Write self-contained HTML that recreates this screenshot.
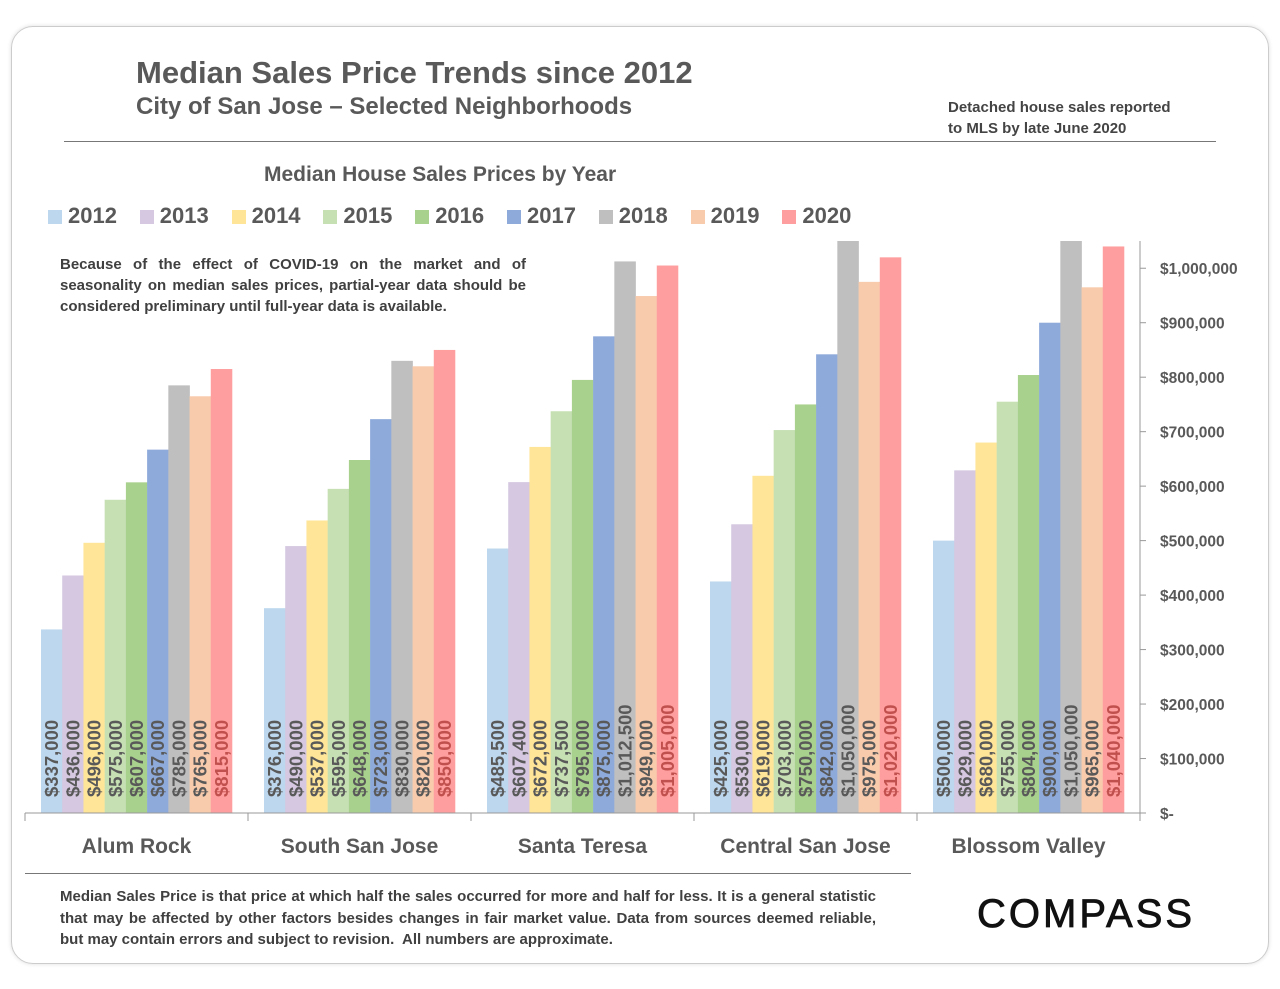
<!DOCTYPE html>
<html><head><meta charset="utf-8"><style>
body{margin:0;width:1280px;height:989px;background:#fff;font-family:"Liberation Sans",sans-serif;overflow:hidden}
.card{position:absolute;left:11px;top:26px;width:1256px;height:936px;border:1px solid #ccc;border-radius:22px;box-shadow:0 0 4px #ddd}
.t{position:absolute;color:#595959;font-weight:bold;white-space:nowrap}
</style></head><body>
<div class="card"></div>
<div class="t" style="left:136px;top:55px;font-size:31px">Median Sales Price Trends since 2012</div>
<div class="t" style="left:136px;top:93px;font-size:24px">City of San Jose – Selected Neighborhoods</div>
<div class="t" style="left:948px;top:97px;font-size:15px;line-height:21px;color:#444">Detached house sales reported<br>to MLS by late June 2020</div>
<div style="position:absolute;left:64px;top:141px;width:1152px;height:1px;background:#777"></div>
<div class="t" style="left:264px;top:163px;font-size:21px">Median House Sales Prices by Year</div>
<div id="legend"></div>
<div class="t" style="left:60px;top:254px;font-size:15px;line-height:21px;color:#404040;white-space:normal;width:466px;text-align:justify">Because of the effect of COVID-19 on the market and of seasonality on median sales prices, partial-year data should be considered preliminary until full-year data is available.</div>
<svg id="chart" width="1280" height="989" style="position:absolute;left:0;top:0"></svg>
<div style="position:absolute;left:25px;top:873px;width:886px;height:1px;background:#777"></div>
<div class="t" style="left:60px;top:886px;font-size:15px;line-height:21.5px;color:#404040;white-space:normal;width:816px;text-align:justify">Median Sales Price is that price at which half the sales occurred for more and half for less. It is a general statistic that may be affected by other factors besides changes in fair market value. Data from sources deemed reliable, but may contain errors and subject to revision.&nbsp; All numbers are approximate.</div>
<div class="t" style="left:977px;top:892px;font-size:40px;color:#111;letter-spacing:3px;font-weight:normal;-webkit-text-stroke:0.8px #111">COMPASS</div>
<script>
const categories=["Alum Rock","South San Jose","Santa Teresa","Central San Jose","Blossom Valley"];
const years=["2012","2013","2014","2015","2016","2017","2018","2019","2020"];
const colors=["#bdd7ee","#d5c8e0","#ffe598","#c6e0b4","#a9d18e","#8eaadb","#bfbfbf","#f8cbad","#ff9e9e"];
const v2012=[337000,376000,485500,425000,500000];
const v2013=[436000,490000,607400,530000,629000];
const v2014=[496000,537000,672000,619000,680000];
const v2015=[575000,595000,737500,703000,755000];
const v2016=[607000,648000,795000,750000,804000];
const v2017=[667000,723000,875000,842000,900000];
const v2018=[785000,830000,1012500,1050000,1050000];
const v2019=[765000,820000,949000,975000,965000];
const v2020=[815000,850000,1005000,1020000,1040000];
const series=[v2012,v2013,v2014,v2015,v2016,v2017,v2018,v2019,v2020];
const yTicks=[0,100000,200000,300000,400000,500000,600000,700000,800000,900000,1000000];
const NS="http://www.w3.org/2000/svg";
const svg=document.getElementById('chart');
const x0=25,x1=1140,y0=813,yMax=1050000,plotTop=241;
const y=v=>y0-(Math.min(v,yMax)/yMax)*(y0-plotTop);
const gw=(x1-x0)/categories.length,pad=16,bw=(gw-2*pad)/years.length;
function mk(t,a){const e=document.createElementNS(NS,t);for(const k in a)e.setAttribute(k,a[k]);svg.appendChild(e);return e;}
const fmt=v=>'$'+v.toLocaleString('en-US');
categories.forEach((c,i)=>{
  series.forEach((s,j)=>{
    const bx=x0+i*gw+pad+j*bw;
    const r=mk('rect',{x:bx,y:y(s[i]),width:bw+0.3,height:y0-y(s[i]),fill:colors[j]});
    
    
    const cx=bx+bw/2+6.5;
    const t=mk('text',{x:0,y:0,'font-size':18.5,'font-weight':'bold',fill:j==8?'#c0504d':'#595959'});
    t.setAttribute('transform',`translate(${cx},797) rotate(-90)`);
    t.textContent=fmt(s[i]);
    
    
  });
  const l=mk('text',{x:x0+i*gw+gw/2,y:853,'text-anchor':'middle','font-size':21,'font-weight':'bold',fill:'#595959'});
  l.textContent=c;
  
  
  mk('line',{x1:x0+i*gw,x2:x0+i*gw,y1:y0,y2:y0+8,stroke:'#999'});
});
mk('line',{x1:x1,x2:x1,y1:y0+8,y2:y0,stroke:'#999'});
mk('line',{x1:x0,x2:x1,y1:y0,y2:y0,stroke:'#999'});
mk('line',{x1:x1,x2:x1,y1:plotTop,y2:y0,stroke:'#999'});
yTicks.forEach(v=>{
  mk('line',{x1:x1,x2:x1+6,y1:y(v),y2:y(v),stroke:'#999'});
  const t=mk('text',{x:1160,y:y(v)+6,'font-size':15.5,'font-weight':'bold',fill:'#595959'});
  t.textContent=v===0?'$-':fmt(v);
  
  
});
const lg=document.getElementById('legend');
let lx=48;
years.forEach((yr,j)=>{
  const e=document.createElement('div');
  
  
  e.style.cssText=`position:absolute;left:${lx}px;top:203px;font-size:22px;font-weight:bold;color:#595959;white-space:nowrap`;
  e.innerHTML=`<span style="display:inline-block;width:14px;height:14px;background:${colors[j]};margin-right:6px;vertical-align:-1px"></span>${yr}`;
  lg.appendChild(e);
  lx+=91.8;
});
</script>
</body></html>
